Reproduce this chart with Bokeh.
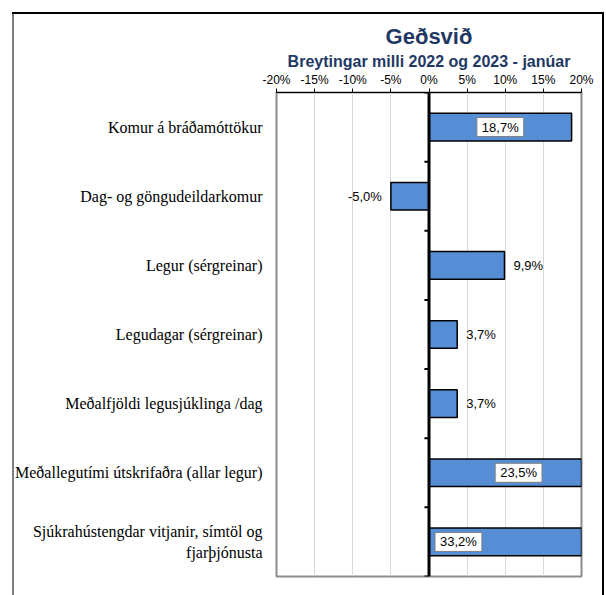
from bokeh.plotting import figure
from bokeh.models import (FactorRange, Range1d, FixedTicker, CustomJSTickFormatter,
                          Span, Label, Title, ColumnDataSource)
from bokeh.embed import file_html
from bokeh.resources import INLINE

title_text = "Geðsvið"
subtitle_text = "Breytingar milli 2022 og 2023 - janúar"
categories = [
    "Komur á bráðamóttökur",
    "Dag- og göngudeildarkomur",
    "Legur (sérgreinar)",
    "Legudagar (sérgreinar)",
    "Meðalfjöldi legusjúklinga /dag",
    "Meðallegutími útskrifaðra (allar legur)",
    "Sjúkrahústengdar vitjanir, símtöl og\nfjarþjónusta",
]
values = [18.7, -5.0, 9.9, 3.7, 3.7, 23.5, 33.2]
label_modes = ["center", "outside", "outside", "outside", "outside", "center", "base"]
x_ticks = [-20, -15, -10, -5, 0, 5, 10, 15, 20]

W, H = 606, 595
FRAME_L, FRAME_R, FRAME_T, FRAME_B = 276, 581, 92, 576
TITLE_COLOR = "#1F3864"
BAR_COLOR = "#558ED5"

p = figure(width=W, height=H, output_backend="svg", toolbar_location=None,
           x_range=Range1d(x_ticks[0], x_ticks[-1]),
           y_range=FactorRange(factors=list(reversed(categories))),
           x_axis_location="above",
           min_border_left=FRAME_L, min_border_right=W - FRAME_R,
           min_border_top=FRAME_T, min_border_bottom=H - FRAME_B)

# outer chart-area border drawn behind a transparent canvas
p.border_fill_color = None
p.styles = {
    "background-color": "white",
    "background-image": ("linear-gradient(black, black), linear-gradient(#7f7f7f, #7f7f7f), "
                         "linear-gradient(black, black)"),
    "background-size": "592px 2px, 2px 590px, 2px 590px",
    "background-position": "12px 12px, 12px 12px, 602px 12px",
    "background-repeat": "no-repeat",
}

p.title.text = title_text
p.title.align = "center"
p.title.text_font = "Liberation Sans"
p.title.text_font_size = "22px"
p.title.text_font_style = "bold"
p.title.text_color = TITLE_COLOR
p.title.standoff = 4
p.add_layout(Title(text=subtitle_text, align="center", text_font="Liberation Sans",
                   text_font_size="16px", text_font_style="bold",
                   text_color=TITLE_COLOR, standoff=0), "above")

p.outline_line_color = "#8c8c8c"
p.outline_line_width = 2
p.background_fill_color = "white"

xa = p.xaxis[0]
xa.ticker = FixedTicker(ticks=x_ticks)
xa.formatter = CustomJSTickFormatter(code="return tick + '%';")
xa.major_label_text_font = "Liberation Sans"
xa.major_label_text_font_size = "12px"
xa.major_label_text_color = "black"
xa.major_tick_out = 4
xa.major_tick_in = 0
xa.minor_tick_line_color = None
xa.axis_line_color = "black"
xa.major_tick_line_color = "black"
xa.major_label_standoff = 2

ya = p.yaxis[0]
ya.axis_line_color = None
ya.major_tick_line_color = None
ya.minor_tick_line_color = None
ya.major_label_text_font = "Liberation Serif"
ya.major_label_text_font_size = "16px"
ya.major_label_text_color = "black"
ya.major_label_standoff = 8

p.xgrid.ticker = FixedTicker(ticks=x_ticks)
p.xgrid.grid_line_color = "#d9d9d9"
p.xgrid.grid_line_width = 1
p.ygrid.grid_line_color = None

src = ColumnDataSource(dict(cat=categories, val=values))
p.hbar(y="cat", left=0, right="val", height=0.4, source=src,
       fill_color=BAR_COLOR, line_color="black", line_width=1.5)

# category axis at zero, with tick marks at category boundaries
p.add_layout(Span(location=0, dimension="height", line_color="black", line_width=3))
n = len(categories)
bounds = list(range(n + 1))
p.segment(x0=[0] * len(bounds), x1=[-0.6] * len(bounds), y0=bounds, y1=bounds,
          line_color="black", line_width=2)

def fmt(v):
    return f"{v:.1f}".replace(".", ",") + "%"

for i, (v, mode) in enumerate(zip(values, label_modes)):
    yc = n - 1 - i + 0.5
    common = dict(y=yc, text=fmt(v), text_font="Liberation Sans", text_font_size="13px",
                  text_color="black", text_baseline="middle")
    if mode == "center":
        lab = Label(x=v / 2, text_align="center", background_fill_color="white",
                    border_line_color="#7f7f7f", border_line_width=1, padding=(5, 2), **common)
    elif mode == "base":
        lab = Label(x=0, x_offset=6, text_align="left", background_fill_color="white",
                    border_line_color="#7f7f7f", border_line_width=1, padding=(5, 2), **common)
    else:
        if v >= 0:
            lab = Label(x=v, x_offset=9, text_align="left", **common)
        else:
            lab = Label(x=v, x_offset=-9, text_align="right", **common)
    p.add_layout(lab)

open("out.html", "w").write(file_html(p, INLINE))
